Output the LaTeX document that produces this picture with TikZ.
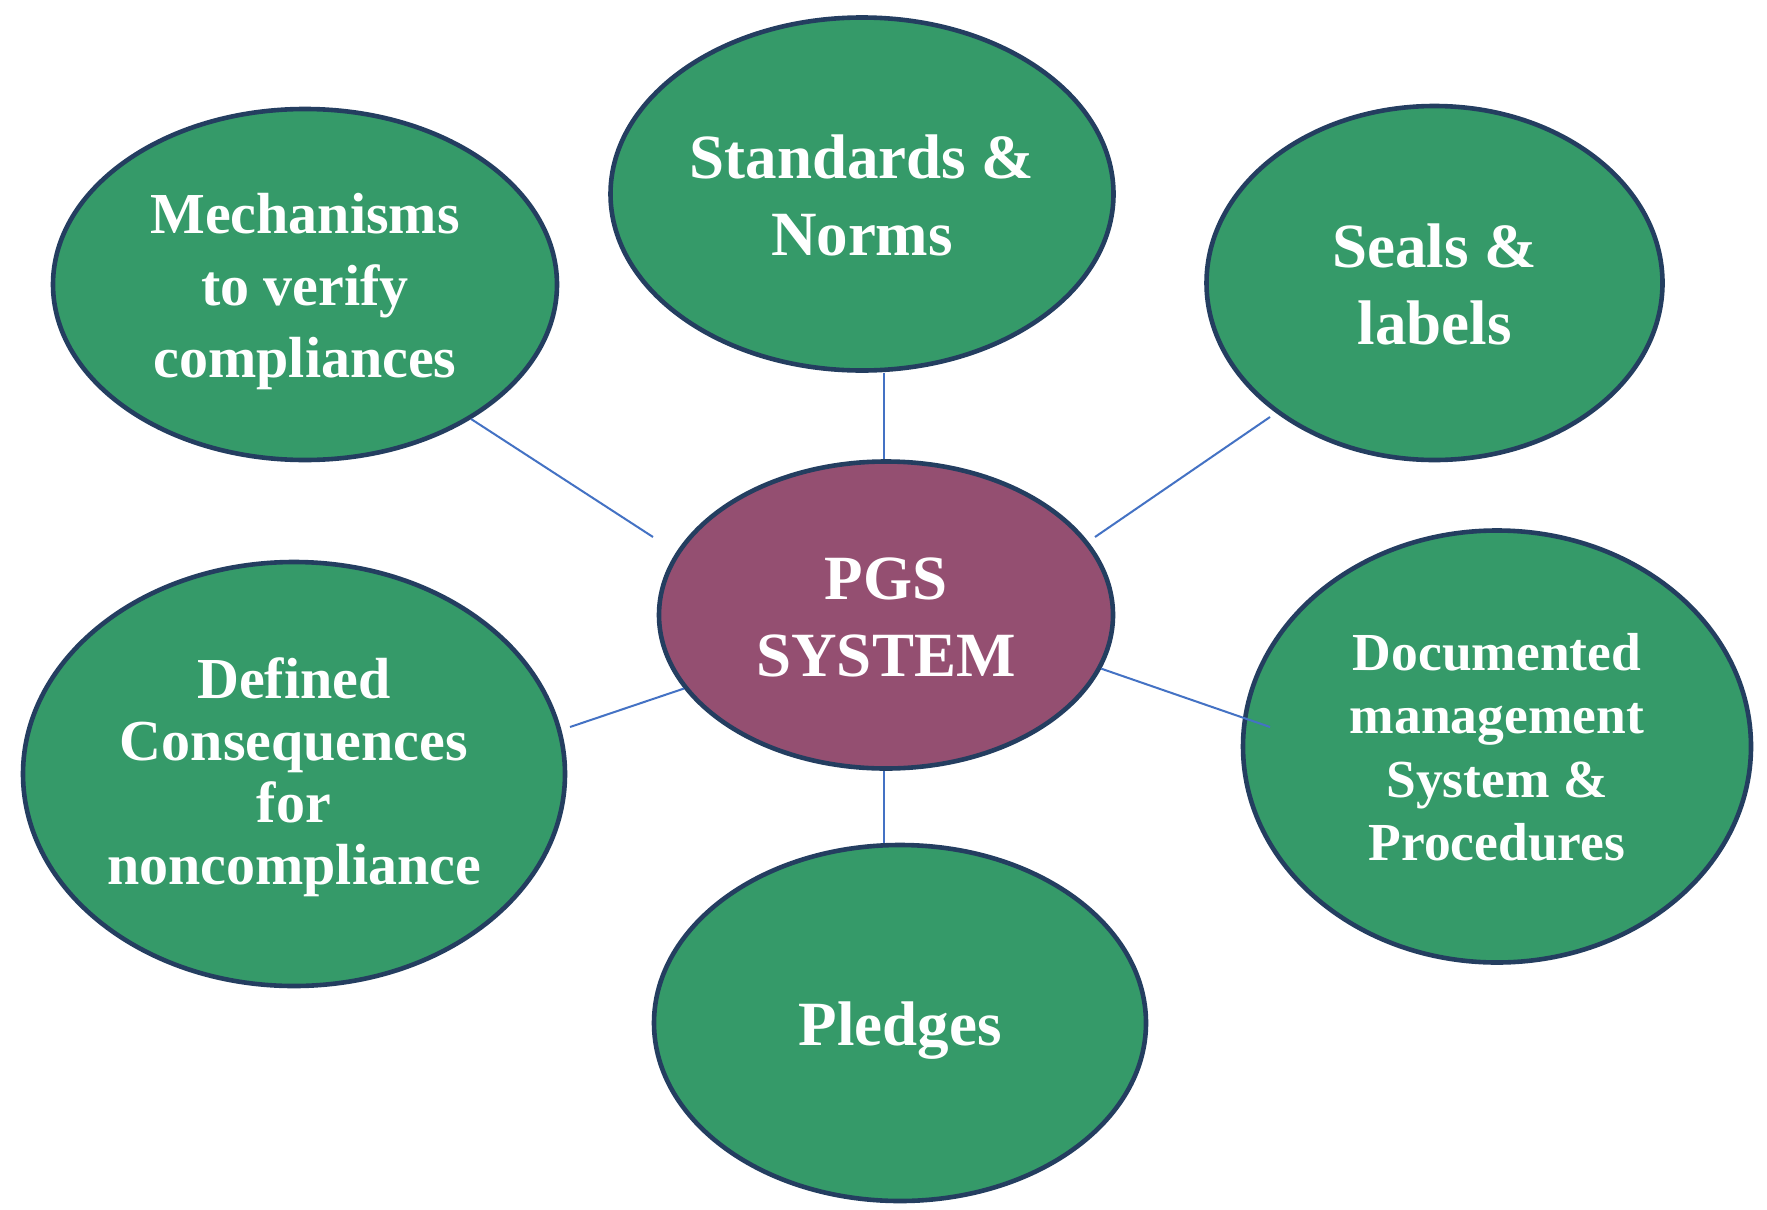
\documentclass[tikz,border=0pt]{standalone}
\usepackage{fontspec}
\setmainfont{Liberation Serif}
\usetikzlibrary{shapes.geometric,calc}
\definecolor{bubgreen}{RGB}{53,154,105}
\definecolor{bubpurple}{RGB}{148,79,113}
\definecolor{bubborder}{RGB}{36,62,96}
\definecolor{linkblue}{RGB}{68,114,196}
\begin{document}
\begin{tikzpicture}[x=1pt,y=-1pt,
  bubble/.style={ellipse, draw=bubborder, line width=4.6pt, fill=bubgreen, inner sep=0pt},
  lbl/.style={text=white, align=center, inner sep=0pt},
  bigtext/.style={font=\bfseries\fontsize{63}{77}\selectfont},
  midtext/.style={font=\bfseries\fontsize{58}{72}\selectfont},
  tighttext/.style={font=\bfseries\fontsize{58}{62}\selectfont},
  smalltext/.style={font=\bfseries\fontsize{53.5}{63.5}\selectfont},
  link/.style={draw=linkblue, line width=2pt}]
\useasboundingbox (0,0) rectangle (1767,1210);
\fill[white] (0,0) rectangle (1767,1210);
\node[bubble, minimum width=503pt, minimum height=353pt] (std) at (862,194) {};
\node[bubble, minimum width=504pt, minimum height=351pt] (mech) at (305,284.5) {};
\node[bubble, minimum width=456pt, minimum height=354pt] (seal) at (1434.5,283) {};
\node[bubble, fill=bubpurple, minimum width=454pt, minimum height=307pt] (pgs) at (886,615) {};
\node[bubble, minimum width=542pt, minimum height=424pt] (def) at (294,774) {};
\node[bubble, minimum width=508pt, minimum height=432pt] (doc) at (1497,746.5) {};
\node[bubble, minimum width=492pt, minimum height=356pt] (pled) at (900,1023) {};
\node[lbl, bigtext, yshift=-1pt] (stdtext) at (std.center) {Standards \&\\Norms};
\node[lbl, midtext, yshift=-7pt] (mechtext) at (mech.center) {Mechanisms\\to verify\\compliances};
\node[lbl, bigtext, yshift=-1pt] (sealtext) at (seal.center) {Seals \&\\labels};
\node[lbl, bigtext, yshift=-2pt] (pgstext) at (pgs.center) {PGS\\SYSTEM};
\node[lbl, tighttext, yshift=-3pt] (deftext) at (def.center) {Defined\\Consequences\\for\\noncompliance};
\node[lbl, smalltext, yshift=-1pt] (doctext) at (doc.center) {Documented\\management\\System \&\\Procedures};
\node[lbl, bigtext, yshift=-8pt] (pledtext) at (pled.center) {Pledges};
\coordinate (mechend) at (653,537);
\coordinate (sealstart) at (1270,417);
\coordinate (sealend) at (1095,537);
\coordinate (defend) at (570,727);
\coordinate (docend) at (1270,727);
\coordinate (topline) at ($(pgs.north)+(-2,0)$);
\coordinate (botline) at ($(pgs.south)+(-2,0)$);
\draw[link] (topline) -- (topline |- std.south);
\draw[link] (botline) -- (botline |- pled.north);
\draw[link] (mech.-39.3) -- (mechend);
\draw[link] (sealstart) -- (sealend);
\draw[link] (pgs.200) -- (defend);
\draw[link] (pgs.-14.1) -- (docend);
\end{tikzpicture}
\end{document}
